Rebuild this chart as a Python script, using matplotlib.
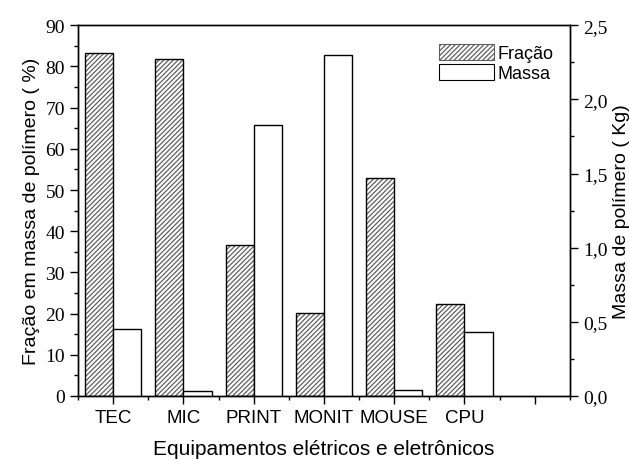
import numpy as np
import matplotlib.pyplot as plt
from matplotlib.patches import Patch
from matplotlib.ticker import MultipleLocator, FuncFormatter

categories = ["TEC", "MIC", "PRINT", "MONIT", "MOUSE", "CPU"]
fracao = [83.3, 81.8, 36.7, 20.2, 52.9, 22.3]      # %
massa = [0.45, 0.032, 1.83, 2.30, 0.038, 0.43]     # kg

serif = ["Liberation Serif", "DejaVu Serif"]
sans = ["Liberation Sans", "DejaVu Sans"]

x = np.arange(1, len(categories) + 1)
width = 0.4

plt.rcParams['hatch.linewidth'] = 0.9

fig = plt.figure(figsize=(6.29, 4.60), dpi=100)
ax = fig.add_axes([0.124, 0.137, 0.782, 0.806])
ax2 = ax.twinx()

# hatched bars (grey hatch) then black outline on top
ax.bar(x - width / 2, fracao, width, facecolor="white", edgecolor="#606060",
       hatch="///////", linewidth=0)
ax.bar(x - width / 2, fracao, width, facecolor="none", edgecolor="black",
       linewidth=1.0)
ax2.bar(x + width / 2, massa, width, facecolor="white", edgecolor="black",
        linewidth=1.0)

ax.set_xlim(0.5, 7.5)
ax.set_ylim(0, 90)
ax2.set_ylim(0, 2.5)

ax.set_xticks(list(x) + [7])
ax.set_xticklabels(categories + [""], family=sans, fontsize=13.5)
ax.xaxis.set_minor_locator(MultipleLocator(0.5))
ax.yaxis.set_major_locator(MultipleLocator(10))
ax.yaxis.set_minor_locator(MultipleLocator(5))
ax2.yaxis.set_major_locator(MultipleLocator(0.5))
ax2.yaxis.set_minor_locator(MultipleLocator(0.25))
ax2.yaxis.set_major_formatter(FuncFormatter(lambda v, p: f"{v:.1f}".replace(".", ",")))

for a in (ax, ax2):
    a.tick_params(which="major", length=6, width=1.0, direction="out")
    a.tick_params(which="minor", length=3, width=1.0, direction="out")
    for s in a.spines.values():
        s.set_linewidth(1.0)
ax.tick_params(axis="x", which="both", top=False)
ax.tick_params(axis="y", labelsize=14)
ax2.tick_params(axis="y", labelsize=14)
for lbl in ax.get_yticklabels() + ax2.get_yticklabels():
    lbl.set_family(serif)

ax.set_xlabel("Equipamentos elétricos e eletrônicos", family=sans,
              fontsize=15, labelpad=9)
ax.set_ylabel("Fração em massa de polímero ( %)", family=sans, fontsize=14,
              labelpad=4)
ax2.set_ylabel("Massa de polímero ( Kg)", family=sans, fontsize=14, labelpad=4)

handles = [Patch(facecolor="white", edgecolor="#606060", hatch="///////", linewidth=0.8),
           Patch(facecolor="white", edgecolor="black", linewidth=0.8)]
leg = ax2.legend(handles, ["Fração", "Massa"], loc="upper left",
                 bbox_to_anchor=(0.72, 0.97), frameon=False, handlelength=3.0,
                 handleheight=1.0, handletextpad=0.2, labelspacing=0.1,
                 borderaxespad=0, prop={"family": sans, "size": 13})

fig.savefig("out.png", dpi=100)
